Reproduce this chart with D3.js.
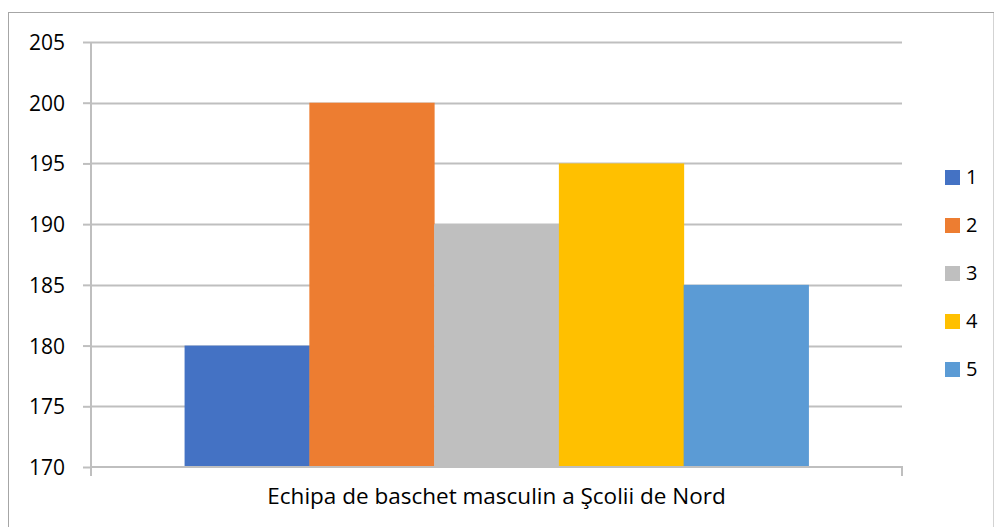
<!DOCTYPE html>
<html>
<head>
<meta charset="utf-8">
<script src="https://cdn.jsdelivr.net/npm/d3@7"></script>
<style>
  html, body { margin: 0; padding: 0; background: #fff; }
  svg { display: block; }
  svg text { font-family: "Open Sans", "Noto Sans", sans-serif; fill: #000; }
</style>
</head>
<body>
<svg id="chart" width="994" height="527"></svg>
<script>
// Heights of the five players of the team (cm)
const categories = ["Echipa de baschet masculin a Şcolii de Nord"];
const seriesNames = ["1", "2", "3", "4", "5"];
const seriesValues = [180, 200, 190, 195, 185];
const seriesColors = ["#4472C4", "#ED7D31", "#BFBFBF", "#FFC000", "#5B9BD5"];
const yTicks = [170, 175, 180, 185, 190, 195, 200, 205];

const svg = d3.select("#chart");
const plotL = 91, plotR = 902, plotT = 42, plotB = 467;
const gridColor = "#BFBFBF";

// chart frame
svg.append("rect")
  .attr("x", 8.5).attr("y", 12.5)
  .attr("width", 994 - 8.5).attr("height", 527)
  .attr("fill", "none").attr("stroke", "#A6A6A6").attr("stroke-width", 1);

const y = d3.scaleLinear().domain([170, 205]).range([plotB, plotT]);
const x0 = d3.scaleBand().domain(categories).range([plotL, plotR]).paddingInner(0).paddingOuter(0.15);
const x1 = d3.scaleBand().domain(seriesNames).range([0, x0.bandwidth()]).padding(0);

// horizontal gridlines
svg.append("g").selectAll("line").data(yTicks.filter(t => t > 170)).join("line")
  .attr("x1", plotL).attr("x2", plotR)
  .attr("y1", d => Math.round(y(d)) + 0.5).attr("y2", d => Math.round(y(d)) + 0.5)
  .attr("stroke", gridColor).attr("stroke-width", 2);

// bars
const group = svg.append("g").selectAll("g").data(categories).join("g")
  .attr("transform", d => `translate(${x0(d)},0)`);
group.selectAll("rect")
  .data(() => seriesNames.map((s, i) => ({ s, v: seriesValues[i], c: seriesColors[i] })))
  .join("rect")
  .attr("x", d => x1(d.s))
  .attr("width", x1.bandwidth() + 0.5)
  .attr("y", d => y(d.v))
  .attr("height", d => y(170) - y(d.v))
  .attr("fill", d => d.c);

// y axis
const yAxis = d3.axisLeft(y).tickValues(yTicks).tickSize(8).tickPadding(18).tickFormat(d3.format("d"));
const gy = svg.append("g").attr("transform", `translate(${plotL},0)`).call(yAxis);
gy.attr("font-family", null).attr("font-size", null);
gy.select(".domain").attr("stroke", gridColor).attr("stroke-width", 2).attr("d", `M0,${plotT}V${plotB}`);
gy.selectAll(".tick line").attr("stroke", gridColor).attr("stroke-width", 2);
gy.selectAll(".tick text").style("font-size", "21px").attr("dy", "0.36em");

// x axis
const xAxis = d3.axisBottom(x0).tickSize(0).tickPadding(21);
const gx = svg.append("g").attr("transform", `translate(0,${plotB})`).call(xAxis);
gx.attr("font-family", null).attr("font-size", null);
gx.select(".domain").attr("stroke", gridColor).attr("stroke-width", 2)
  .attr("d", `M${plotL},9V0H${plotR}V9`);
gx.selectAll(".tick text").style("font-size", "22.5px");

// legend
const legend = svg.append("g").attr("transform", "translate(945,177)");
const items = legend.selectAll("g").data(seriesNames).join("g")
  .attr("transform", (d, i) => `translate(0,${i * 48})`);
items.append("rect").attr("x", 0).attr("y", -7).attr("width", 15).attr("height", 15)
  .attr("fill", (d, i) => seriesColors[i]);
items.append("text").attr("x", 21).attr("y", 0).attr("dy", "0.36em")
  .style("font-size", "20px").text(d => d);
</script>
</body>
</html>
